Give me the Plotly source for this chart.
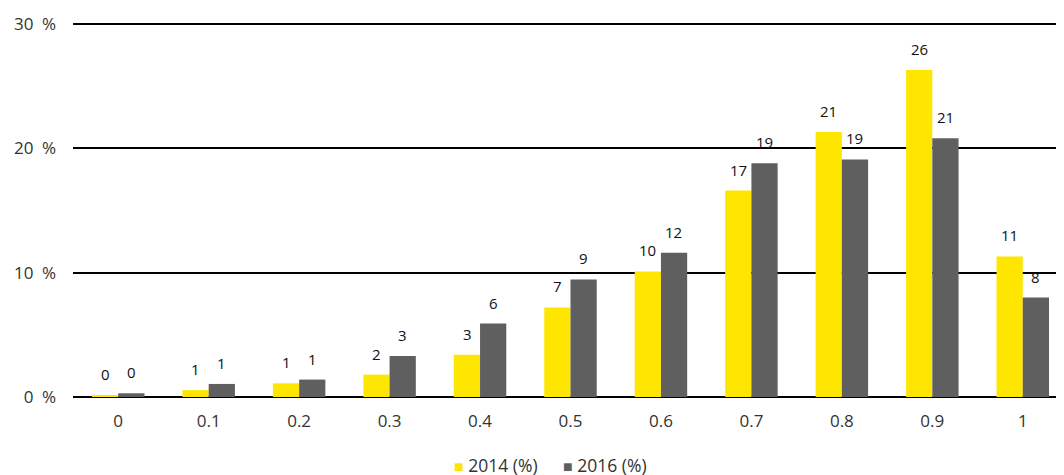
import plotly.graph_objects as go

categories = ["0", "0.1", "0.2", "0.3", "0.4", "0.5", "0.6", "0.7", "0.8", "0.9", "1"]
values_2014 = [0.15, 0.55, 1.1, 1.8, 3.4, 7.2, 10.1, 16.6, 21.3, 26.3, 11.3]
values_2016 = [0.3, 1.05, 1.4, 3.3, 5.9, 9.45, 11.6, 18.8, 19.1, 20.8, 8.0]
labels_2014 = ["0", "1", "1", "2", "3", "7", "10", "17", "21", "26", "11"]
labels_2016 = ["0", "1", "1", "3", "6", "9", "12", "19", "19", "21", "8"]
y_ticks = [0, 10, 20, 30]
y_tick_labels = ["0\u2002%", "10\u2002%", "20\u2002%", "30\u2002%"]
series_names = ["2014 (%)", "2016 (%)"]

FONT = "Open Sans"
YELLOW = "#FFE600"
GREY = "#5F5F5F"
TXT = "#333333"

fig = go.Figure()
fig.add_trace(go.Bar(x=categories, y=values_2014, name=series_names[0],
                     marker=dict(color=YELLOW, line=dict(width=0))))
fig.add_trace(go.Bar(x=categories, y=values_2016, name=series_names[1],
                     marker=dict(color=GREY, line=dict(width=0))))

annotations = []
for i, (v, lab) in enumerate(zip(values_2014, labels_2014)):
    annotations.append(dict(x=i, y=v, text=lab, xref="x", yref="y", showarrow=False,
                            xshift=-13, yshift=21, yanchor="middle",
                            font=dict(family=FONT, size=15, color="#111111")))
for i, (v, lab) in enumerate(zip(values_2016, labels_2016)):
    annotations.append(dict(x=i, y=v, text=lab, xref="x", yref="y", showarrow=False,
                            xshift=13, yshift=21, yanchor="middle",
                            font=dict(family=FONT, size=15, color="#111111")))

# legend drawn as text
for name, col, xpos in zip(series_names, [YELLOW, GREY], [0.381, 0.4905]):
    annotations.append(dict(
        x=xpos, y=-0.181, xref="paper", yref="paper", xanchor="left", yanchor="middle",
        showarrow=False,
        text=f"<span style='color:{col};font-size:16px'>■</span> {name}",
        font=dict(family=FONT, size=17.5, color=TXT)))

fig.update_layout(
    width=1064, height=475,
    margin=dict(l=65, r=4, t=14, b=86, autoexpand=False),
    paper_bgcolor="white", plot_bgcolor="white",
    font=dict(family=FONT, size=17, color=TXT),
    barmode="group", bargap=0.42, bargroupgap=0,
    showlegend=False,
    annotations=annotations,
)
fig.update_xaxes(type="category", showgrid=False, showline=False, ticks="",
                 automargin=False, ticklabelstandoff=12,
                 tickfont=dict(family=FONT, size=17, color=TXT))
fig.update_yaxes(range=[0, 30.15], tickvals=y_ticks, ticktext=y_tick_labels,
                 showgrid=True, gridcolor="#000000", gridwidth=2,
                 zeroline=True, zerolinecolor="#000000", zerolinewidth=2,
                 showline=False, ticks="", ticklabelstandoff=16, automargin=False,
                 tickfont=dict(family=FONT, size=17, color=TXT))

fig.write_html("out.html")
